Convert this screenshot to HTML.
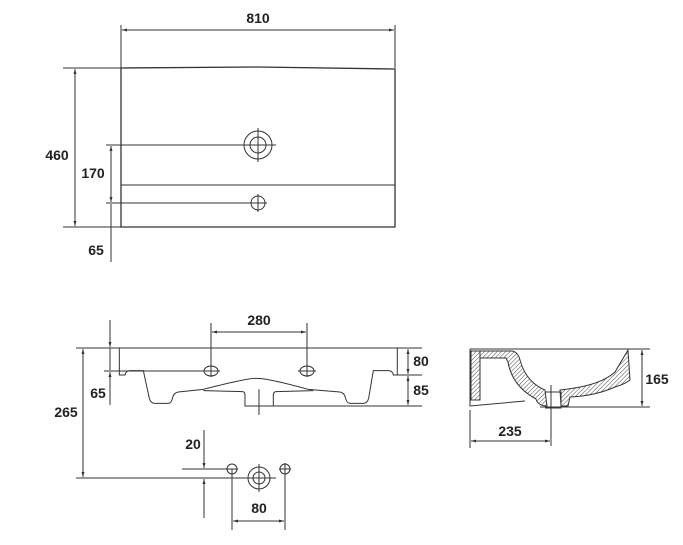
<!DOCTYPE html>
<html><head><style>
html,body{margin:0;padding:0;background:#fff;}
svg{display:block;}
text{font-family:"Liberation Sans",sans-serif;font-size:14px;font-weight:bold;fill:#222;}
</style></head><body>
<svg width="683" height="545" viewBox="0 0 683 545" xmlns="http://www.w3.org/2000/svg">
<defs>
<pattern id="h" width="3" height="3" patternUnits="userSpaceOnUse" patternTransform="rotate(45)">
<line x1="0" y1="0" x2="0" y2="3" stroke="#333" stroke-width="0.9"/></pattern>
<marker id="a" markerWidth="6" markerHeight="6" refX="5" refY="3" orient="auto-start-reverse"><path d="M0,1.5 L5,3 L0,4.5" fill="#333"/></marker>
</defs>
<g stroke="#333" stroke-width="1" fill="none">
<!-- TOP VIEW -->
<path d="M121,68 L258,67 L395,69 L395,227 L121,227 Z" stroke-width="1.3"/>
<line x1="121" y1="185" x2="395" y2="185"/>
<line x1="121" y1="25" x2="121" y2="68"/>
<line x1="395" y1="25" x2="395" y2="68"/>
<line x1="122" y1="30" x2="394" y2="30" marker-start="url(#a)" marker-end="url(#a)"/>
<line x1="63" y1="68" x2="121" y2="68"/>
<line x1="63" y1="227" x2="122" y2="227"/>
<line x1="75" y1="69" x2="75" y2="226" marker-start="url(#a)" marker-end="url(#a)"/>
<circle cx="258" cy="145" r="14"/><circle cx="258" cy="145" r="8"/>
<line x1="241" y1="145" x2="276" y2="145"/><line x1="258" y1="128" x2="258" y2="162"/>
<line x1="106" y1="145" x2="258" y2="145"/>
<circle cx="258" cy="203" r="7"/>
<line x1="249" y1="203" x2="267" y2="203"/><line x1="258" y1="194" x2="258" y2="212"/>
<line x1="106" y1="203" x2="258" y2="203"/>
<line x1="111" y1="146" x2="111" y2="202" marker-start="url(#a)" marker-end="url(#a)"/>
<line x1="111" y1="204" x2="111" y2="262"/>

<!-- FRONT VIEW -->
<line x1="76" y1="348" x2="422" y2="348"/>
<g transform="translate(60,300) scale(0.3333)" stroke-width="3">
<path d="M178,143 L178,225 L195,225 Q198,212 210,212 L250,212 L268,295 Q272,310 285,310 L325,310 Q335,310 338,292 Q342,278 355,276 L430,268 Q520,245 560,238 Q590,232 620,238 Q660,245 745,268 L840,276 Q852,278 856,292 Q860,310 870,310 L910,310 Q922,310 926,295 L940,212 L985,212 Q998,212 1000,225 L1012,225 L1012,143"/>
<path d="M430,272 L548,275 Q555,276 555,285 L555,318 L640,318 L640,285 Q640,276 648,275 L760,272"/>
<line x1="597" y1="268" x2="597" y2="345"/>
</g>
<line x1="397" y1="375" x2="422" y2="375"/>
<line x1="273" y1="406" x2="422" y2="406"/>
<line x1="408" y1="349" x2="408" y2="374" marker-start="url(#a)" marker-end="url(#a)"/>
<line x1="408" y1="376" x2="408" y2="405" marker-start="url(#a)" marker-end="url(#a)"/>
<ellipse cx="211" cy="371" rx="7" ry="5"/><line x1="202" y1="371" x2="220" y2="371"/>
<ellipse cx="307" cy="371" rx="7" ry="5"/><line x1="298" y1="371" x2="316" y2="371"/>
<line x1="211" y1="323" x2="211" y2="377"/>
<line x1="307" y1="323" x2="307" y2="377"/>
<line x1="212" y1="332" x2="306" y2="332" marker-start="url(#a)" marker-end="url(#a)"/>
<line x1="104" y1="371" x2="203" y2="371"/>
<line x1="110" y1="320" x2="110" y2="347" marker-end="url(#a)"/>
<line x1="110" y1="372" x2="110" y2="405" marker-start="url(#a)"/>
<line x1="110" y1="348" x2="110" y2="370"/>
<line x1="83" y1="349" x2="83" y2="477" marker-start="url(#a)" marker-end="url(#a)"/>
<line x1="76" y1="478" x2="276" y2="478"/>
<circle cx="259" cy="478" r="11"/><circle cx="259" cy="478" r="6"/>
<line x1="259" y1="464" x2="259" y2="492"/>
<circle cx="232" cy="469" r="5"/><line x1="226" y1="469" x2="238" y2="469"/>
<circle cx="285" cy="469" r="5"/><line x1="279" y1="469" x2="291" y2="469"/><line x1="285" y1="463" x2="285" y2="475"/>
<line x1="182" y1="469" x2="226" y2="469"/>
<line x1="204" y1="430" x2="204" y2="468" marker-end="url(#a)"/>
<line x1="204" y1="479" x2="204" y2="518" marker-start="url(#a)"/>
<line x1="232" y1="469" x2="232" y2="530"/>
<line x1="285" y1="469" x2="285" y2="530"/>
<line x1="233" y1="521" x2="284" y2="521" marker-start="url(#a)" marker-end="url(#a)"/>

<!-- SIDE VIEW -->
<line x1="470" y1="349" x2="650" y2="349"/>
<line x1="540" y1="407" x2="650" y2="407"/>
<line x1="642" y1="350" x2="642" y2="406" marker-start="url(#a)" marker-end="url(#a)"/>
<path d="M470,349 L470,406 L525,401"/>
<path d="M471,351 L480,351 L480,400 L471,400 Z" fill="url(#h)"/>
<path d="M480,351 L512,351 Q518,352 520,360 Q526,382 545,390 L547,406 Q538,406 536,399 Q512,386 508,362 L506,358 L480,358 Z" fill="url(#h)"/>
<path d="M560,390 Q600,386 615,372 L628,350 L630,380 Q625,384 615,387 Q595,396 570,397 L568,406 L561,406 Z" fill="url(#h)"/>
<path d="M545,392 L561,392 L561,408 L545,408"/>
<line x1="551" y1="385" x2="551" y2="416"/>
<line x1="470" y1="410" x2="470" y2="448"/>
<line x1="471" y1="441" x2="550" y2="441" marker-start="url(#a)" marker-end="url(#a)"/>
<line x1="551" y1="416" x2="551" y2="446"/>
</g>
<text x="258" y="23" text-anchor="middle">810</text>
<text x="57" y="160" text-anchor="middle">460</text>
<text x="93" y="178" text-anchor="middle">170</text>
<text x="96" y="255" text-anchor="middle">65</text>
<text x="259" y="325" text-anchor="middle">280</text>
<text x="421" y="366" text-anchor="middle">80</text>
<text x="421" y="395" text-anchor="middle">85</text>
<text x="98" y="398" text-anchor="middle">65</text>
<text x="66" y="417" text-anchor="middle">265</text>
<text x="193" y="449" text-anchor="middle">20</text>
<text x="259" y="513" text-anchor="middle">80</text>
<text x="657" y="384" text-anchor="middle">165</text>
<text x="510" y="436" text-anchor="middle">235</text>
</svg>
</body></html>
